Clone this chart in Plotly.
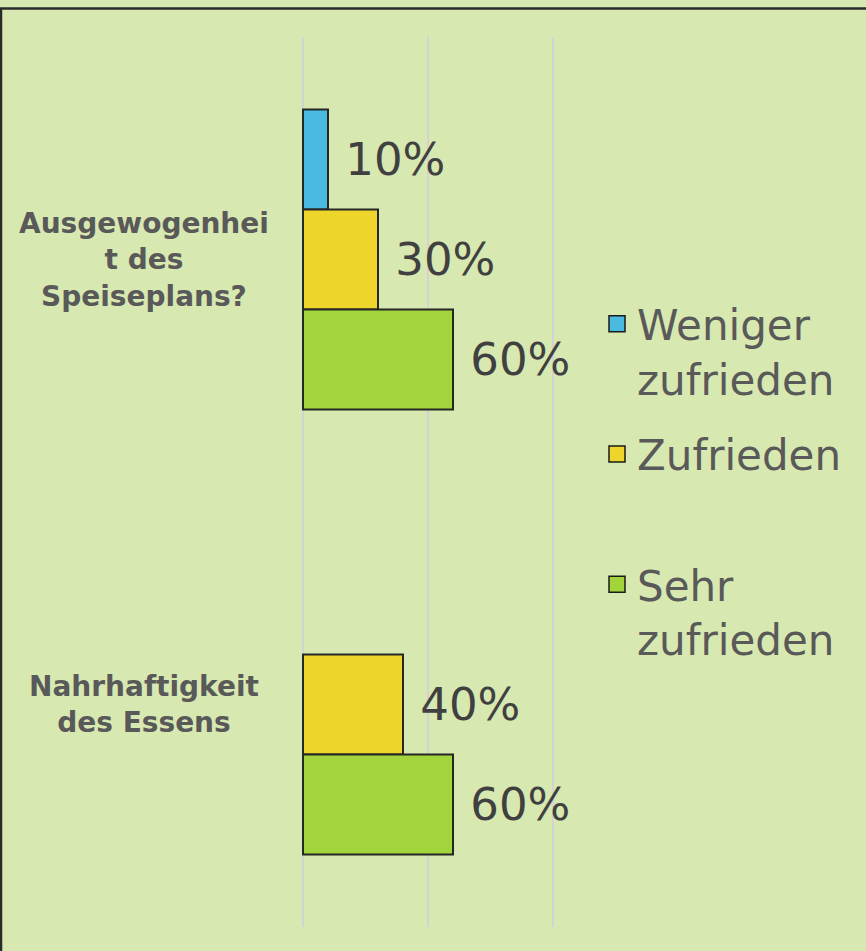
import plotly.graph_objects as go

categories = ["Ausgewogenheit des Speiseplans?", "Nahrhaftigkeit des Essens"]
category_labels = ["Ausgewogenhei<br>t des<br>Speiseplans?", "Nahrhaftigkeit<br>des Essens"]
series_names = ["Weniger<br>zufrieden", "Zufrieden<br>\u00a0", "Sehr<br>zufrieden"]
weniger = [0.10, None]
zufrieden = [0.30, 0.40]
sehr = [0.60, 0.60]
series_values = [weniger, zufrieden, sehr]
colors = ["#4BBAE0", "#EED52C", "#A2D53C"]

BG = "#D7E8B0"
TXT = "#595959"

# plot area geometry (px)
L, R, T, B = 298, 308, 37, 24
W = 866 - L - R
H = 951 - T - B


def px_x(p):
    return (p - L) / W


def px_y(p):
    return 1 - (p - T) / H


fig = go.Figure()
for name, vals, col in zip(series_names, series_values, colors):
    fig.add_trace(go.Bar(
        y=categories, x=vals, orientation="h", name=name,
        marker=dict(color=col, line=dict(color="#262626", width=2)),
        texttemplate="\u00a0%{x:.0%}", textposition="outside",
        textfont=dict(family="DejaVu Sans", size=45, color="#404040"),
        cliponaxis=False, showlegend=False, hoverinfo="skip",
    ))
    # legend entry with a larger square symbol
    fig.add_trace(go.Scatter(
        x=[None], y=[None], mode="markers", name=name, legendgroup=name,
        marker=dict(symbol="square", size=16, color=col,
                    line=dict(color="#1a1a1a", width=1.5)),
    ))

for cat, lab in zip(categories, category_labels):
    fig.add_annotation(
        x=px_x(144), xref="paper", y=cat, yref="y", text=lab, showarrow=False,
        xanchor="center", yanchor="middle", align="center",
        font=dict(family="DejaVu Sans", size=28, color=TXT, weight="bold"),
    )

# frame lines (top and left)
fig.add_shape(type="line", xref="paper", yref="paper", x0=px_x(0), x1=px_x(870),
              y0=px_y(8.5), y1=px_y(8.5), line=dict(color="#2b2b2b", width=2.5))
fig.add_shape(type="line", xref="paper", yref="paper", x0=px_x(1), x1=px_x(1),
              y0=px_y(8.5), y1=px_y(955), line=dict(color="#2b2b2b", width=2.5))

fig.update_layout(
    width=866, height=951,
    paper_bgcolor=BG, plot_bgcolor=BG,
    margin=dict(l=L, r=R, t=T, b=B),
    barmode="group", bargap=0.326, bargroupgap=0,
    font=dict(family="DejaVu Sans", color=TXT),
    xaxis=dict(range=[-0.02, 1.02], tick0=0, dtick=0.5, showgrid=True,
               gridcolor="#D2D2D8", gridwidth=2, zeroline=False,
               showticklabels=False, showline=False, fixedrange=True),
    yaxis=dict(autorange="reversed", showticklabels=False, showgrid=False,
               zeroline=False, showline=False, fixedrange=True),
    legend=dict(x=px_x(597), y=px_y(290), xanchor="left", yanchor="top",
                font=dict(family="DejaVu Sans", size=42, color=TXT),
                bgcolor="rgba(0,0,0,0)", valign="top",
                tracegroupgap=18, traceorder="grouped"),
    showlegend=True,
)

fig.write_html("out.html", config={"displayModeBar": False},
               post_script="document.body.style.margin='0';document.body.style.padding='0';")
